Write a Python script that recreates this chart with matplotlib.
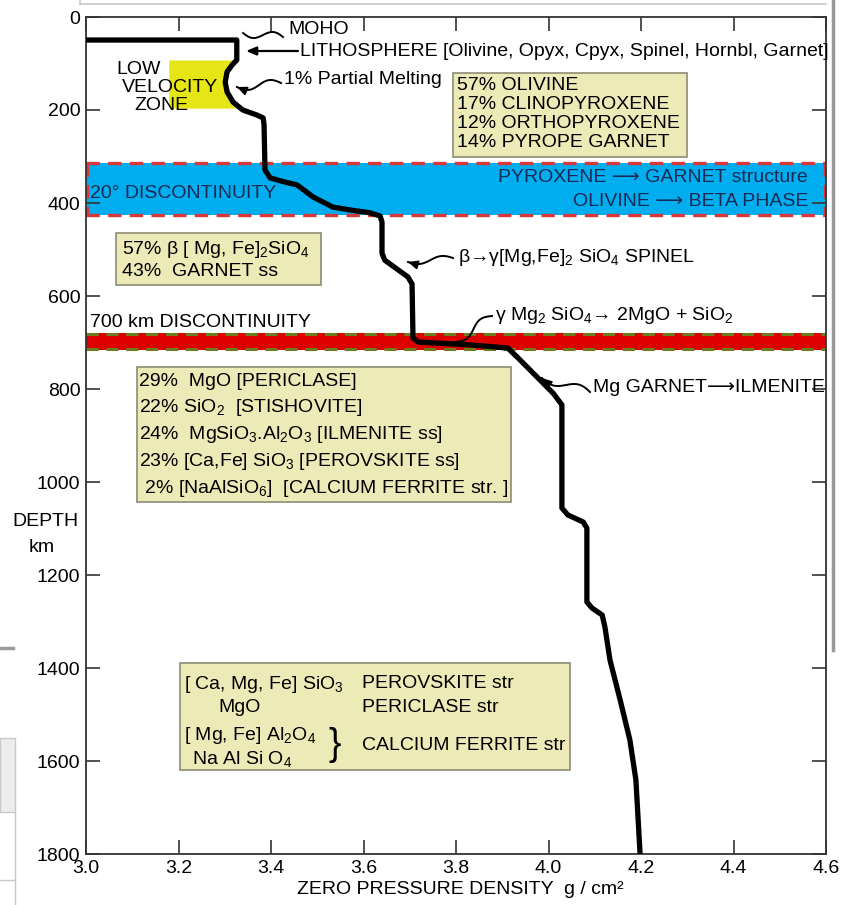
import numpy as np
import matplotlib
matplotlib.use("Agg")
import matplotlib.pyplot as plt
from matplotlib.patches import Rectangle
from matplotlib.lines import Line2D

plt.rcParams['font.family'] = ['Liberation Sans', 'DejaVu Sans']
plt.rcParams['mathtext.fontset'] = 'custom'
plt.rcParams['mathtext.rm'] = 'Liberation Sans'
plt.rcParams['mathtext.it'] = 'Liberation Sans:italic'
plt.rcParams['mathtext.bf'] = 'Liberation Sans:bold'

# ---------------- data ----------------
density = [3.000, 3.326, 3.326, 3.316, 3.305, 3.301, 3.305, 3.318, 3.339, 3.370,
           3.383, 3.385, 3.387, 3.398, 3.430, 3.456, 3.491, 3.534, 3.571, 3.614,
           3.636, 3.640, 3.640, 3.646, 3.696, 3.705, 3.707, 3.718, 3.830, 3.912,
           3.932, 3.975, 4.010, 4.029, 4.029, 4.042, 4.075, 4.083, 4.083, 4.094,
           4.116, 4.122, 4.133, 4.155, 4.176, 4.189, 4.198]
depth = [49.5, 49.5, 92.5, 103, 118, 140, 161, 183, 200, 211,
         217, 232, 329, 346, 355, 361, 387, 409, 415, 421,
         428, 441, 508, 523, 559, 574, 690, 699, 705, 712,
         731, 774, 809, 834, 1056, 1071, 1086, 1099, 1258, 1271,
         1286, 1312, 1383, 1469, 1555, 1641, 1800]

x_ticks = [3.0, 3.2, 3.4, 3.6, 3.8, 4.0, 4.2, 4.4, 4.6]
x_ticklabels = ['3.0', '3.2', '3.4', '3.6', '3.8', '4.0', '4.2', '4.4', '4.6']
y_ticks = [0, 200, 400, 600, 800, 1000, 1200, 1400, 1600, 1800]

lvz_depth = (92.5, 196)          # low velocity zone
lvz_left = 3.179
disc20 = (315, 425)              # 20 deg discontinuity band
disc700 = (680, 716)             # 700 km discontinuity band

box1_lines = ["57% OLIVINE", "17% CLINOPYROXENE", "12% ORTHOPYROXENE", "14% PYROPE GARNET"]
box2_lines = [r"57% β [ Mg, Fe]$_2$SiO$_4$", "43%  GARNET ss"]
box3_lines = ["29%  MgO [PERICLASE]",
              r"22% SiO$_2$  [STISHOVITE]",
              r"24%  MgSiO$_3$.Al$_2$O$_3$ [ILMENITE ss]",
              r"23% [Ca,Fe] SiO$_3$ [PEROVSKITE ss]",
              r" 2% [NaAlSiO$_6$]  [CALCIUM FERRITE str. ]"]

# ---------------- figure ----------------
W, H = 844, 905
fig = plt.figure(figsize=(W / 100, H / 100), dpi=100)
ax = fig.add_axes([86 / W, 1 - 854 / H, (826 - 86) / W, (854 - 17) / H])
ax.set_xlim(3.0, 4.6)
ax.set_ylim(1800, 0)


def px2x(px):
    return 3.0 + (np.asarray(px, dtype=float) - 86) / 462.5


def py2y(py):
    return (np.asarray(py, dtype=float) - 17) * 200 / 93.0


FS = 14
BOX_FC = '#ecebb8'
BOX_EC = '#8c8c74'
NAVY = '#1b2a55'

# bands
ax.add_patch(Rectangle((3.0, disc20[0]), 1.6, disc20[1] - disc20[0], facecolor='#00aeef',
                       edgecolor='none', zorder=1))
for yv in disc20:
    ax.plot([3.0, 4.6], [yv, yv], color='#d8383a', lw=2.4, ls=(0, (4, 2.5)), zorder=2)
for xv in (3.003, 4.597):
    ax.plot([xv, xv], [disc20[0], disc20[1]], color='#d8383a', lw=2.4, ls=(0, (4, 2.5)), zorder=2)

ax.add_patch(Rectangle((3.0, disc700[0]), 1.6, disc700[1] - disc700[0], facecolor='#dc0000',
                       edgecolor='none', zorder=1))
for yv in (disc700[0] + 2, disc700[1] - 2):
    ax.plot([3.0, 4.6], [yv, yv], color='#6e7b1f', lw=2.2, ls=(0, (4, 2.5)), zorder=2)

# low velocity zone
yy = np.linspace(lvz_depth[0], lvz_depth[1], 60)
xx = np.interp(yy, depth[2:], density[2:])
ax.fill_betweenx(yy, lvz_left, xx, color='#e6e617', lw=0, zorder=1)

# density curve
ax.plot(density, depth, color='black', lw=3.8, solid_joinstyle='round',
        solid_capstyle='butt', zorder=6)


def box(px0, py0, px1, py1):
    ax.add_patch(Rectangle((px2x(px0), py2y(py0)), px2x(px1) - px2x(px0),
                           py2y(py1) - py2y(py0), facecolor=BOX_FC, edgecolor=BOX_EC,
                           lw=1.2, zorder=3))


box(453, 73, 687, 157)
for i, t in enumerate(box1_lines):
    ax.text(px2x(457), py2y(85 + 19.2 * i), t, fontsize=FS, va='center', ha='left', zorder=4)

box(116, 233, 321, 285)
for i, t in enumerate(box2_lines):
    ax.text(px2x(122), py2y(250 + 22 * i), t, fontsize=FS, va='center', ha='left', zorder=4)

box(137, 367, 511, 502)
for i, t in enumerate(box3_lines):
    ax.text(px2x(139), py2y(381 + 26.8 * i), t, fontsize=FS, va='center', ha='left', zorder=4)

box(180, 663, 570, 770)
ax.text(px2x(184), py2y(684), r"[ Ca, Mg, Fe] SiO$_3$", fontsize=FS, va='center', zorder=4)
ax.text(px2x(240), py2y(707), "MgO", fontsize=FS, va='center', ha='center', zorder=4)
ax.text(px2x(184), py2y(735), r"[ Mg, Fe] Al$_2$O$_4$", fontsize=FS, va='center', zorder=4)
ax.text(px2x(192), py2y(759), r"Na Al Si O$_4$", fontsize=FS, va='center', zorder=4)
ax.text(px2x(335), py2y(745), "}", fontsize=27, va='center', ha='center', zorder=4)
ax.text(px2x(362), py2y(683), "PEROVSKITE str", fontsize=FS, va='center', zorder=4)
ax.text(px2x(362), py2y(707), "PERICLASE str", fontsize=FS, va='center', zorder=4)
ax.text(px2x(362), py2y(745), "CALCIUM FERRITE str", fontsize=FS, va='center', zorder=4)

# labels
ax.text(px2x(116), py2y(70), "LOW", fontsize=FS, va='center', zorder=4)
ax.text(px2x(122), py2y(88), "VELOCITY", fontsize=FS, va='center', zorder=4)
ax.text(px2x(134), py2y(106), "ZONE", fontsize=FS, va='center', zorder=4)
ax.text(px2x(288), py2y(29), "MOHO", fontsize=FS, va='center', zorder=4)
ax.text(px2x(300), py2y(51), "LITHOSPHERE [Olivine, Opyx, Cpyx, Spinel, Hornbl, Garnet]",
        fontsize=FS, va='center', zorder=4)
ax.text(px2x(284), py2y(80), "1% Partial Melting", fontsize=FS, va='center', zorder=4)
ax.text(px2x(90), py2y(193), "20° DISCONTINUITY", fontsize=FS, va='center', color=NAVY, zorder=4)
ax.text(px2x(808), py2y(178), "PYROXENE ⟶ GARNET structure", fontsize=FS, va='center',
        ha='right', color=NAVY, zorder=4)
ax.text(px2x(808), py2y(202), "OLIVINE ⟶ BETA PHASE", fontsize=FS, va='center',
        ha='right', color=NAVY, zorder=4)
ax.text(px2x(458), py2y(258), r"β→γ[Mg,Fe]$_2$ SiO$_4$ SPINEL", fontsize=FS, va='center', zorder=4)
ax.text(px2x(495), py2y(315), r"γ Mg$_2$ SiO$_4$→ 2MgO + SiO$_2$", fontsize=FS, va='center', zorder=4)
ax.text(px2x(90), py2y(322), "700 km DISCONTINUITY", fontsize=FS, va='center', zorder=4)
ax.text(px2x(593), py2y(387), "Mg GARNET⟶ILMENITE", fontsize=FS, va='center', zorder=4)


def squiggle(p0, p1, amp=4.0, waves=1.0, arrow=False):
    t = np.linspace(0, 1, 80)
    x0, y0 = p0
    x1, y1 = p1
    dx, dy = x1 - x0, y1 - y0
    L = np.hypot(dx, dy)
    nx, ny = -dy / L, dx / L
    off = amp * np.sin(2 * np.pi * waves * t)
    xs = x0 + dx * t + nx * off
    ys = y0 + dy * t + ny * off
    ax.plot(px2x(xs), py2y(ys), color='black', lw=1.4, zorder=7)
    if arrow:
        ax.annotate('', xy=(px2x(x1), py2y(y1)), xytext=(px2x(xs[-8]), py2y(ys[-8])),
                    arrowprops=dict(arrowstyle='-|>,head_length=0.55,head_width=0.25',
                                    color='black', lw=1.4, shrinkA=0, shrinkB=0), zorder=7)


squiggle((283, 37), (243, 33), amp=4)
squiggle((281, 83), (237, 87), amp=4, arrow=True)
squiggle((453, 258), (408, 262), amp=3, arrow=True)
squiggle((492, 316), (455, 342), amp=4)
squiggle((590, 392), (542, 378), amp=4, arrow=True)
ax.annotate('', xy=(px2x(246), py2y(51)), xytext=(px2x(298), py2y(51)),
            arrowprops=dict(arrowstyle='-|>,head_length=0.6,head_width=0.25', color='black',
                            lw=1.6, shrinkA=0, shrinkB=0), zorder=7)

# axes styling
ax.set_xticks(x_ticks)
ax.set_xticklabels(x_ticklabels)
ax.set_yticks(y_ticks)
ax.tick_params(direction='in', length=10, width=1.2, top=True, right=True,
               labelsize=FS, pad=4, color='#333333')
for s in ax.spines.values():
    s.set_color('#333333')
    s.set_linewidth(1.3)

fig.text(45 / W, 1 - 522 / H, "DEPTH", fontsize=FS, ha='center', va='center')
fig.text(42 / W, 1 - 548 / H, "km", fontsize=FS, ha='center', va='center')
fig.text(460 / W, 1 - 889 / H, "ZERO PRESSURE DENSITY  g / cm²", fontsize=FS,
         ha='center', va='center')

# page artifacts surrounding the figure
fig.add_artist(Line2D([80 / W, 826 / W], [1 - 4 / H, 1 - 4 / H], color='#c8c8c8', lw=1.2))
fig.add_artist(Line2D([80 / W, 80 / W], [1 - 4 / H, 1.0], color='#c8c8c8', lw=1.2))
fig.add_artist(Line2D([833 / W, 833 / W], [1 - 650 / H, 1.0], color='#9a9a9a', lw=2.5))
fig.add_artist(Line2D([0, 13 / W], [1 - 648 / H, 1 - 648 / H], color='#9a9a9a', lw=2.5))
fig.add_artist(Rectangle((0, 1 - 812 / H), 15 / W, 74 / H, transform=fig.transFigure,
                         facecolor='#ececec', edgecolor='#c8c8c8', lw=1))
fig.add_artist(Line2D([0, 15 / W], [1 - 880 / H, 1 - 880 / H], color='#c8c8c8', lw=1))
fig.add_artist(Line2D([15 / W, 15 / W], [0, 1 - 812 / H], color='#c8c8c8', lw=1))

fig.savefig("out.png", dpi=100)
